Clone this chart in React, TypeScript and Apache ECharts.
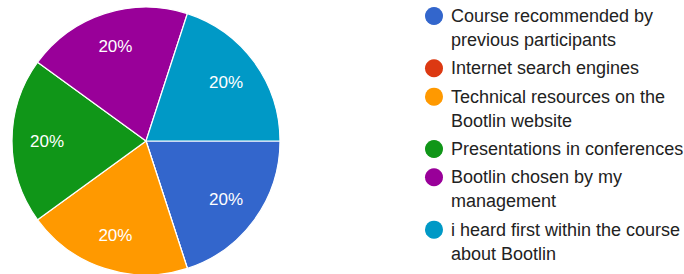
import React, { useEffect, useRef } from "react";
import * as echarts from "echarts";

const categories = [
  "Course recommended by\nprevious participants",
  "Internet search engines",
  "Technical resources on the\nBootlin website",
  "Presentations in conferences",
  "Bootlin chosen by my\nmanagement",
  "i heard first within the course\nabout Bootlin",
];
const values = [1, 0, 1, 1, 1, 1];
const colors = ["#3366cc", "#dc3912", "#ff9900", "#109618", "#990099", "#0099c6"];

export default function App() {
  const ref = useRef<HTMLDivElement>(null);
  useEffect(() => {
    if (!ref.current) return;
    const chart = echarts.init(ref.current, undefined, { renderer: "svg" });
    const data = categories.map((name, i) => ({
      name,
      value: values[i],
      itemStyle: { color: colors[i] },
    }));

    // legend built as graphic elements so the marker sits on the first line
    const lineH = 24;
    const gap = 4.33;
    const legendEls: any[] = [];
    let y = 16;
    categories.forEach((name, i) => {
      const nLines = name.split("\n").length;
      legendEls.push({
        type: "circle",
        shape: { cx: 434, cy: y, r: 9 },
        style: { fill: colors[i] },
        silent: true,
      });
      legendEls.push({
        type: "text",
        x: 451,
        y: y - lineH / 2,
        style: {
          text: name,
          fill: "#222222",
          font: '18px "Liberation Sans", Arial, sans-serif',
          lineHeight: lineH,
          verticalAlign: "top",
          align: "left",
        },
        silent: true,
      });
      y += nLines * lineH + gap;
    });

    chart.setOption({
      animation: false,
      backgroundColor: "#ffffff",
      graphic: legendEls,
      series: [
        {
          type: "pie",
          center: [146, 141],
          radius: 134,
          startAngle: 0,
          clockwise: true,
          silent: true,
          label: { show: false },
          labelLine: { show: false },
          itemStyle: { borderColor: "#ffffff", borderWidth: 1.2 },
          data,
        },
        {
          type: "pie",
          center: [146, 141],
          radius: [58, 134],
          startAngle: 0,
          clockwise: true,
          silent: true,
          avoidLabelOverlap: false,
          itemStyle: { color: "transparent", borderWidth: 0 },
          labelLine: { show: false },
          label: {
            show: true,
            position: "inside",
            color: "#ffffff",
            fontSize: 17,
            fontFamily: '"Liberation Sans", Arial, sans-serif',
            formatter: (p: any) => (p.value === 0 ? "" : Math.round(p.percent) + "%"),
          },
          data: categories.map((name, i) => ({ name, value: values[i], itemStyle: { color: "transparent" } })),
        },
      ],
    });
    return () => chart.dispose();
  }, []);
  return (
    <div
      ref={ref}
      style={{ position: "fixed", left: 0, top: 0, width: 684, height: 274 }}
    />
  );
}
